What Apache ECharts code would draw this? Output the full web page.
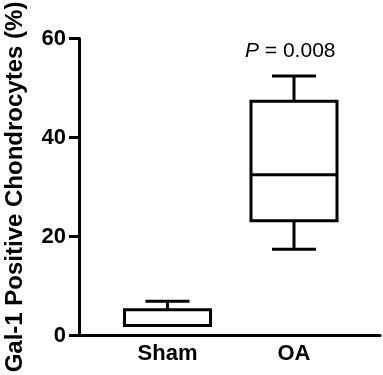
<!DOCTYPE html>
<html>
<head>
<meta charset="utf-8">
<script src="https://cdn.jsdelivr.net/npm/echarts@6/dist/echarts.min.js"></script>
<style>
html, body { margin: 0; padding: 0; background: #fff; }
#chart { width: 383px; height: 375px; }
</style>
</head>
<body>
<div id="chart"></div>
<script>
// groups and where they sit on the x axis
var groups = ['Sham', 'OA'];
var groupPos = [1, 2];
// box values: min, Q1, median, Q3, max
var shamBox = [2.0, 2.0, 2.0, 5.2, 6.9];
var oaBox = [17.4, 23.2, 32.5, 47.3, 52.4];
var yTicks = [0, 20, 40, 60];
var pText = '0.008';

var myChart = echarts.init(document.getElementById('chart'));

var boxData = [
	[groupPos[0]].concat(shamBox),
	[groupPos[1]].concat(oaBox)
];

var BOX_W = 86;
var CAP_W = 44;
var LW = 3;

function renderBox(params, api) {
	var x = api.value(0);
	var lo = api.coord([x, api.value(1)]);
	var q1 = api.coord([x, api.value(2)]);
	var md = api.coord([x, api.value(3)]);
	var q3 = api.coord([x, api.value(4)]);
	var hi = api.coord([x, api.value(5)]);
	var cx = lo[0];
	var st = { stroke: '#000', lineWidth: LW, fill: null };
	return {
		type: 'group',
		children: [
			{ type: 'line', shape: { x1: cx, y1: q3[1], x2: cx, y2: hi[1] }, style: st },
			{ type: 'line', shape: { x1: cx - CAP_W / 2, y1: hi[1], x2: cx + CAP_W / 2, y2: hi[1] }, style: st },
			{ type: 'line', shape: { x1: cx, y1: q1[1], x2: cx, y2: lo[1] }, style: st },
			{ type: 'line', shape: { x1: cx - CAP_W / 2, y1: lo[1], x2: cx + CAP_W / 2, y2: lo[1] }, style: st },
			{ type: 'rect', shape: { x: cx - BOX_W / 2, y: q3[1], width: BOX_W, height: q1[1] - q3[1] }, style: { stroke: '#000', lineWidth: LW, fill: '#fff' } },
			{ type: 'line', shape: { x1: cx - BOX_W / 2, y1: md[1], x2: cx + BOX_W / 2, y2: md[1] }, style: st }
		]
	};
}

myChart.setOption({
	animation: false,
	title: {
		text: '{i|P} = ' + pText,
		left: 240,
		top: 36,
		textStyle: {
			fontFamily: 'Liberation Sans',
			fontSize: 21,
			fontWeight: 'normal',
			color: '#000',
			rich: {
				i: { fontFamily: 'Liberation Sans', fontSize: 21, fontStyle: 'italic', color: '#000' }
			}
		}
	},
	grid: {
		left: 79,
		right: 3,
		top: 38.5,
		bottom: 39.5,
		outerBoundsMode: 'none'
	},
	xAxis: {
		type: 'value',
		min: 0.3,
		max: 2.68,
		splitLine: { show: false },
		axisLine: { lineStyle: { color: '#000', width: LW } },
		axisTick: { show: false },
		axisLabel: {
			customValues: groupPos,
			formatter: function (v) {
				var i = groupPos.indexOf(v);
				return i >= 0 ? groups[i] : '';
			},
			margin: 7,
			color: '#000',
			fontFamily: 'Liberation Sans',
			fontWeight: 'bold',
			fontSize: 22
		}
	},
	yAxis: {
		type: 'value',
		min: yTicks[0],
		max: yTicks[yTicks.length - 1],
		interval: 20,
		name: 'Gal-1 Positive Chondrocytes (%)',
		nameLocation: 'middle',
		nameGap: 52,
		nameTextStyle: {
			fontFamily: 'Liberation Sans',
			fontWeight: 'bold',
			fontSize: 24,
			color: '#000'
		},
		splitLine: { show: false },
		axisLine: { show: true, lineStyle: { color: '#000', width: LW } },
		axisTick: { show: true, length: 10, lineStyle: { color: '#000', width: LW } },
		axisLabel: {
			margin: 13,
			color: '#000',
			fontFamily: 'Liberation Sans',
			fontWeight: 'bold',
			fontSize: 22
		}
	},
	series: [{
		type: 'custom',
		renderItem: renderBox,
		data: boxData,
		encode: { x: 0, y: [1, 2, 3, 4, 5] }
	}]
});
</script>
</body>
</html>
